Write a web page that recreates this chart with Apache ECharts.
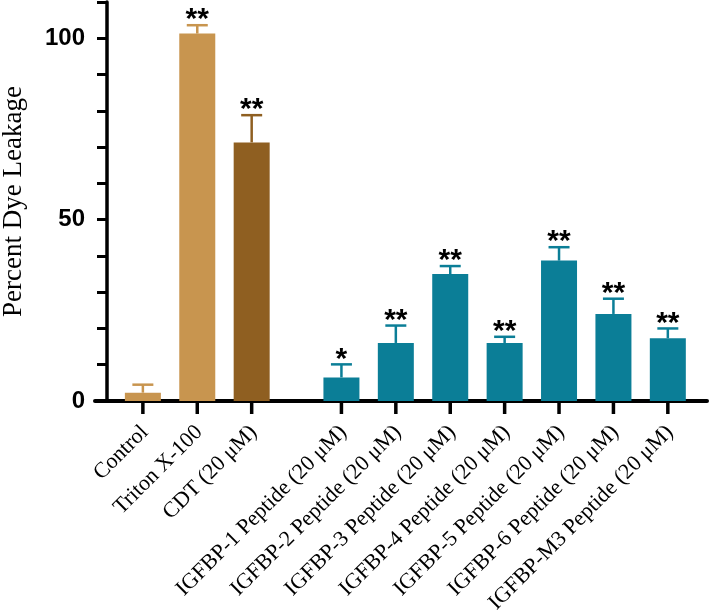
<!DOCTYPE html>
<html>
<head>
<meta charset="utf-8">
<script src="https://cdn.jsdelivr.net/npm/echarts@6/dist/echarts.min.js"></script>
<style>
html,body{margin:0;padding:0;background:#fff;}
#chart{width:709px;height:612px;}
</style>
</head>
<body>
<div id="chart"></div>
<script>
// ---- data ----
const categories = ['Control', 'Triton X-100', 'CDT (20 μM)',
  'IGFBP-1 Peptide (20 μM)', 'IGFBP-2 Peptide (20 μM)', 'IGFBP-3 Peptide (20 μM)',
  'IGFBP-4 Peptide (20 μM)', 'IGFBP-5 Peptide (20 μM)', 'IGFBP-6 Peptide (20 μM)',
  'IGFBP-M3 Peptide (20 μM)'];
const means = [2.3, 101.3, 71.3, 6.5, 16.0, 35.0, 16.0, 38.7, 24.0, 17.3];
const errors = [2.2, 2.3, 7.5, 3.6, 4.8, 2.2, 1.7, 3.7, 4.2, 2.7];
const significance = ['', '**', '**', '*', '**', '**', '**', '**', '**', '**'];
const groups = [0, 0, 1, 2, 2, 2, 2, 2, 2, 2];
const yTicks = [0, 50, 100];

// ---- styling ----
const groupColors = ['#C8954F', '#8F5F21', '#0B7E97'];
const GROUP_GAP = 0.65; // extra spacing before peptide group, in category units
const pos = i => i + (groups[i] === 2 ? GROUP_GAP : 0);

const chart = echarts.init(document.getElementById('chart'), null, {renderer: 'canvas'});

const barData = means.map((m, i) => ({
  value: [pos(i), m],
  itemStyle: {color: groupColors[groups[i]]}
}));
const errData = means.map((m, i) => [pos(i), m, errors[i], i]);
const tickData = categories.map((c, i) => [pos(i), 0, i]);

chart.setOption({
  animation: false,
  grid: {left: 95, right: 2, top: 2, bottom: 211, containLabel: false, outerBoundsMode: 'none'},
  xAxis: {
    type: 'value', min: -0.88, max: 10.37,
    axisLine: {show: true, onZero: false, lineStyle: {color: '#000', width: 4}},
    axisTick: {show: false}, axisLabel: {show: false}, splitLine: {show: false}
  },
  yAxis: {
    type: 'value', min: 0, max: 110, interval: 10, offset: -12,
    name: 'Percent Dye Leakage', nameLocation: 'middle', nameGap: 80,
    nameTextStyle: {fontFamily: 'Liberation Serif', fontSize: 27, color: '#000'},
    axisLine: {show: true, onZero: false, lineStyle: {color: '#000', width: 3.5}},
    axisTick: {show: true, length: 10, lineStyle: {color: '#000', width: 3}},
    axisLabel: {
      margin: 22, fontFamily: 'Liberation Sans', fontWeight: 'bold', fontSize: 24, color: '#000',
      formatter: v => yTicks.indexOf(v) >= 0 ? String(v) : ''
    },
    splitLine: {show: false}
  },
  series: [
    {
      type: 'bar', data: barData, barWidth: 36, z: 2
    },
    {
      type: 'custom', data: errData, z: 3, clip: false,
      renderItem: (params, api) => {
        const x = api.value(0), m = api.value(1), e = api.value(2), idx = api.value(3);
        const b = api.coord([x, m]);
        const t = api.coord([x, m + e]);
        const col = groupColors[groups[idx]];
        return {
          type: 'group',
          children: [
            {type: 'line', shape: {x1: b[0], y1: b[1], x2: t[0], y2: t[1]}, style: {stroke: col, lineWidth: 2.5}},
            {type: 'line', shape: {x1: t[0] - 10.5, y1: t[1], x2: t[0] + 10.5, y2: t[1]}, style: {stroke: col, lineWidth: 2.5}},
            {type: 'text', x: t[0], y: t[1] + 10,
             style: {text: significance[idx], font: 'bold 30px "Liberation Sans"', fill: '#000', align: 'center', verticalAlign: 'bottom'}}
          ]
        };
      }
    },
    {
      type: 'custom', data: tickData, z: 4, clip: false, silent: true,
      renderItem: (params, api) => {
        const p = api.coord([api.value(0), 0]);
        const idx = api.value(2);
        return {
          type: 'group',
          children: [
            {type: 'line', shape: {x1: p[0], y1: p[1], x2: p[0], y2: p[1] + 13}, style: {stroke: '#000', lineWidth: 3.5}},
            {type: 'text', x: p[0] + 2, y: p[1] + 28, rotation: Math.PI / 4,
             style: {text: categories[idx], font: '22px "Liberation Serif"', fill: '#000', align: 'right', verticalAlign: 'middle'}}
          ]
        };
      }
    }
  ]
});
</script>
</body>
</html>
